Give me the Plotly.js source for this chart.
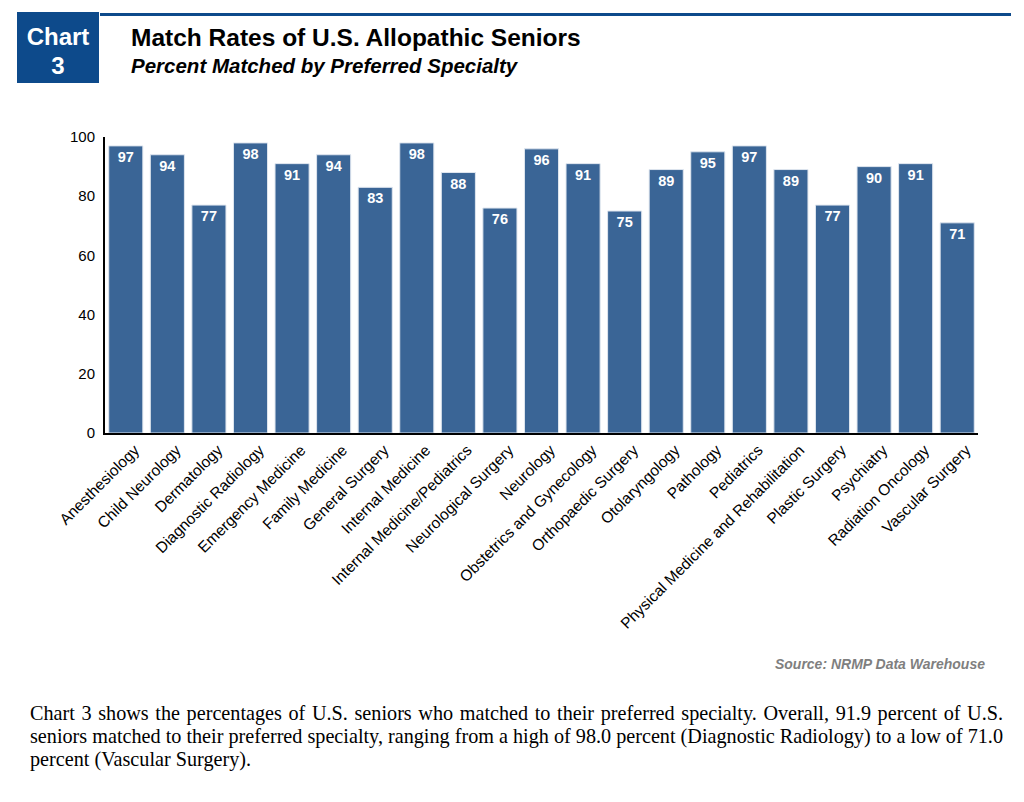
<!DOCTYPE html>
<html><head><meta charset="utf-8">
<script src="https://cdn.plot.ly/plotly-3.0.1.min.js"></script>
<style>
body{margin:0;background:#fff;width:1024px;height:802px;overflow:hidden;position:relative;font-family:"Liberation Sans",Arial,sans-serif;}
#chart{position:absolute;left:0;top:0;width:1024px;height:802px;}
.box{position:absolute;left:17px;top:12px;width:82px;height:71px;background:#0d4a8b;color:#fff;font-weight:bold;font-size:24px;text-align:center;line-height:29px;padding-top:10px;box-sizing:border-box;}
.rule{position:absolute;left:100px;top:13px;width:911px;height:3px;background:#0d4a8b;}
.t1{position:absolute;left:131px;top:24px;font-size:24.5px;font-weight:bold;color:#000;white-space:nowrap;}
.t2{position:absolute;left:131px;top:54px;font-size:20.5px;font-weight:bold;font-style:italic;color:#000;white-space:nowrap;}
.src{position:absolute;right:39px;top:656px;font-size:14px;font-weight:bold;font-style:italic;color:#7f7f7f;white-space:nowrap;}
.para{position:absolute;left:30px;top:702px;width:973px;font-family:"Liberation Serif","Times New Roman",serif;font-size:20.2px;line-height:23px;text-align:justify;color:#000;}
</style></head><body>
<div id="chart"></div>
<div class="box">Chart<br>3</div>
<div class="rule"></div>
<div class="t1">Match Rates of U.S. Allopathic Seniors</div>
<div class="t2">Percent Matched by Preferred Specialty</div>
<div class="src">Source: NRMP Data Warehouse</div>
<div class="para">Chart 3 shows the percentages of U.S. seniors who matched to their preferred specialty. Overall, 91.9 percent of U.S. seniors matched to their preferred specialty, ranging from a high of 98.0 percent (Diagnostic Radiology) to a low of 71.0 percent (Vascular Surgery).</div>
<script>
const specialties = ["Anesthesiology","Child Neurology","Dermatology","Diagnostic Radiology","Emergency Medicine","Family Medicine","General Surgery","Internal Medicine","Internal Medicine/Pediatrics","Neurological Surgery","Neurology","Obstetrics and Gynecology","Orthopaedic Surgery","Otolaryngology","Pathology","Pediatrics","Physical Medicine and Rehabilitation","Plastic Surgery","Psychiatry","Radiation Oncology","Vascular Surgery"];
const matchRates = [97,94,77,98,91,94,83,98,88,76,96,91,75,89,95,97,89,77,90,91,71];
const yTicks = [0,20,40,60,80,100];

Plotly.newPlot('chart',[{
  type:'bar', x:specialties, y:matchRates,
  marker:{color:'#3a6596', line:{color:'#dfe6ef', width:1}},
  text:matchRates.map(String), textposition:'inside', insidetextanchor:'end',
  textfont:{color:'#fff', size:14.5, family:'Liberation Sans, Arial', weight:'bold'},
  textangle:0, hoverinfo:'none', cliponaxis:false
}],{
  width:1024, height:802,
  margin:{l:105, r:46, t:137, b:369, pad:0},
  paper_bgcolor:'rgba(0,0,0,0)', plot_bgcolor:'rgba(0,0,0,0)',
  bargap:0.18, showlegend:false,
  font:{family:'Liberation Sans, Arial', color:'#000'},
  xaxis:{showline:true, linecolor:'#000', linewidth:2, tickangle:-45, tickfont:{size:15.5}, ticks:'', showgrid:false, automargin:false, ticklabelshift:9},
  yaxis:{range:[0,100], tickvals:yTicks, showline:true, linecolor:'#000', linewidth:2, showgrid:false, zeroline:false, ticks:'', tickfont:{size:15}, ticklabelstandoff:5, automargin:false}
},{staticPlot:true});
</script>
</body></html>
